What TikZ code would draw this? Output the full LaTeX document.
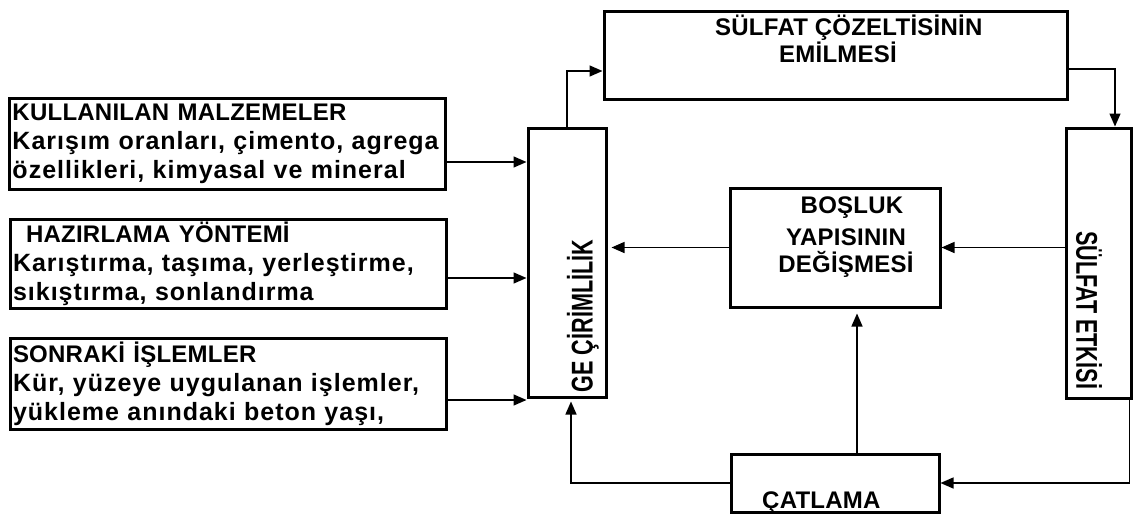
\documentclass[tikz,border=0pt]{standalone}
\usepackage{fontspec}
\setmainfont{Liberation Sans}
\newfontfamily\headfont[LetterSpace=1]{Liberation Sans}
\newfontfamily\bodyfont[LetterSpace=4]{Liberation Sans}
\newfontfamily\narrowfont[FakeStretch=0.72]{Liberation Sans}
\usepackage{tikz}
\usetikzlibrary{arrows.meta,positioning,calc}

\begin{document}
\begin{tikzpicture}[x=1pt,y=-1pt,
    box/.style={draw,line width=3pt,inner sep=0pt},
    leftbox/.style={box,inner xsep=3pt,minimum width=436pt,
      minimum height=91pt,text width=430pt,align=left,
      font=\bodyfont\bfseries\fontsize{25}{29}\selectfont},
    lbl/.style={inner sep=0pt,font=\headfont\bfseries\fontsize{24}{29}\selectfont},
    vlbl/.style={inner sep=0pt,font=\narrowfont\bfseries\fontsize{30}{30}\selectfont},
    flow/.style={line width=1.4pt,-{Triangle[length=13pt,width=11pt]}}]
  \useasboundingbox (0,0) rectangle (1141,514);

  % inputs on the left
  \node[leftbox] (kul) at (227.5,144) {%
    {\headfont\fontsize{24}{29}\selectfont KULLANILAN MALZEMELER}\\
    Karışım oranları, çimento, agrega\\
    özellikleri, kimyasal ve mineral};
  \node[leftbox,minimum height=89pt] (haz) at (228,263.5) {%
    {\headfont\fontsize{24}{29}\selectfont\hspace*{13pt}HAZIRLAMA YÖNTEMİ}\\
    Karıştırma, taşıma, yerleştirme,\\
    sıkıştırma, sonlandırma};
  \node[leftbox] (son) at (228,383.5) {%
    {\headfont\fontsize{24}{29}\selectfont SONRAKİ İŞLEMLER}\\
    Kür, yüzeye uygulanan işlemler,\\
    yükleme anındaki beton yaşı,};

  % the loop
  \node[box,minimum width=78pt,minimum height=269pt] (gec) at (567,262.5) {};
  \node[vlbl,rotate=90] (gectxt) at ([xshift=16pt,yshift=-53.5pt]gec.center) {GE ÇİRİMLİLİK};

  \node[box,minimum width=463pt,minimum height=88pt] (coz) at (835.5,55) {};
  \node[lbl,anchor=base west] (coz1) at (715,35) {SÜLFAT ÇÖZELTİSİNİN};
  \node[lbl,anchor=base west] (coz2) at (779,62) {EMİLMESİ};

  \node[box,minimum width=65pt,minimum height=270pt] (etki) at (1098.5,263) {};
  \node[vlbl,rotate=-90] (etkitxt) at ([xshift=-9.5pt,yshift=-47pt]etki.center) {SÜLFAT ETKİSİ};

  \node[box,minimum width=210pt,minimum height=119pt] (bos) at (835,247.5) {};
  \node[lbl,anchor=base] (bos1) at (852,213) {BOŞLUK};
  \node[lbl,anchor=base] (bos2) at (846,245) {YAPISININ};
  \node[lbl,anchor=base] (bos3) at (846,272) {DEĞİŞMESİ};

  \node[box,minimum width=208pt,minimum height=58pt] (cat) at (835,483) {};
  \node[lbl,anchor=base west] (cattxt) at (762,508) {ÇATLAMA};

  % connectors
  \draw[flow] ([yshift=-18pt]kul.east) -- ([yshift=-18pt]kul.east -| gec.west);
  \draw[flow] ([yshift=-14.5pt]haz.east) -- ([yshift=-14.5pt]haz.east -| gec.west);
  \draw[flow] ([yshift=-16.5pt]son.east) -- ([yshift=-16.5pt]son.east -| gec.west);

  \draw[flow] (gec.north) |- ([yshift=-16pt]coz.west);
  \draw[flow] ([yshift=-14pt]coz.east) -| ([xshift=16.5pt]etki.north);
  \draw[flow] (etki.west |- bos.east) -- (bos.east);
  \draw[flow,shorten >=4pt] (bos.west) -- (bos.west -| gec.east);
  \draw[flow] ([xshift=-3pt]etki.south east) |- (cat.east);
  \draw[flow,shorten >=5pt] ([xshift=22pt]cat.north) -- ([xshift=22pt]cat.north |- bos.south);
  \draw[flow,shorten >=3pt] (cat.west) -| ([xshift=4pt]gec.south);
\end{tikzpicture}
\end{document}
